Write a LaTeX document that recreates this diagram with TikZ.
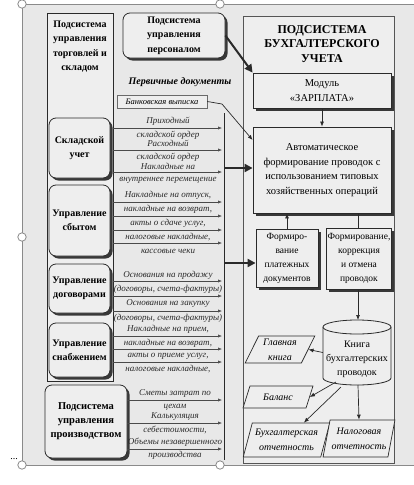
\documentclass[tikz,border=0pt]{standalone}
\usepackage{fontspec}
\setmainfont{Liberation Serif}
\usetikzlibrary{shapes.geometric,arrows.meta,shadows}
\definecolor{bg}{HTML}{E8E8E8}
\definecolor{boxfill}{HTML}{EEEEEE}
\definecolor{ink}{HTML}{2A2A2A}
\definecolor{shadowc}{HTML}{383838}
\definecolor{handle}{HTML}{8A8A8A}
\tikzset{
  frm/.style={draw=ink, line width=0.8pt, fill=boxfill},
  shd/.style={drop shadow={shadow xshift=2.5pt, shadow yshift=-2.5pt, fill=shadowc, opacity=1}},
  rbox/.style={frm, shd, rounded corners=7pt, align=center, inner sep=1pt,
    font=\bfseries\fontsize{10}{14}\selectfont},
  sbox/.style={frm, shd, align=center, inner sep=1pt,
    font=\fontsize{10.5}{14.6}\selectfont},
  smallbox/.style={frm, shd, align=center, inner sep=1pt,
    font=\fontsize{9.5}{14}\selectfont},
  doc/.style={font=\itshape\fontsize{9}{9}\selectfont, text=ink, inner sep=0pt},
  docarr/.style={draw=ink!85, line width=0.6pt, -{Latex[length=4pt,width=3.2pt]}},
  thinarr/.style={draw=ink, line width=0.7pt, -{Latex[length=5pt,width=4pt]}},
  bigarr/.style={draw=ink, line width=2pt, -{Triangle[length=8pt,width=8pt]}},
  para/.style={trapezium, trapezium stretches=true, frm, line width=0.7pt,
    align=center, inner sep=0pt, font=\itshape\fontsize{10}{15}\selectfont},
  handlec/.style={draw=handle, fill=white, line width=0.8pt}
}
\begin{document}
\begin{tikzpicture}[x=1pt,y=-1pt]
\useasboundingbox (0,0) rectangle (414,485);
% scan background and frame
\fill[bg] (22,4) rectangle (414,465);
\draw[handle, line width=0.6pt] (414,4) -- (22,4) -- (22,465) -- (414,465);

% left subsystem
\node[frm, minimum width=66pt, minimum height=368pt, inner sep=0pt] (trade) at (80,197) {};
\node[align=center, font=\bfseries\fontsize{10}{14.3}\selectfont, inner sep=0pt] (tradetitle) at (80,46.5)
  {Подсистема\\управления\\торговлей и\\складом};
\node[rbox, minimum width=61pt, minimum height=60pt] (sklad) at (79.5,148) {Складской\\учет};
\node[rbox, minimum width=61pt, minimum height=71pt] (sbyt) at (79.5,220.5) {Управление\\сбытом};
\node[rbox, minimum width=61pt, minimum height=49pt] (dogovor) at (79.5,288.5) {Управление\\договорами};
\node[rbox, minimum width=61pt, minimum height=54pt] (snab) at (79.5,350) {Управление\\снабжением};
\node[rbox, minimum width=82pt, minimum height=73pt, font=\bfseries\fontsize{10.5}{14}\selectfont] (proizv) at (86,421.5)
  {Подсистема\\управления\\производством};

% personnel
\node[rbox, minimum width=102pt, minimum height=45pt, font=\bfseries\fontsize{10}{14.5}\selectfont] (personnel) at (174,35.5)
  {Подсистема\\управления\\персоналом};

% accounting subsystem
\node[draw=ink!80, line width=0.7pt, fill=boxfill, minimum width=151pt, minimum height=447pt, inner sep=0pt] (acct) at (318.5,239.5) {};
\node[align=center, font=\bfseries\fontsize{12}{14.2}\selectfont, inner sep=0pt] (accttitle) at (322,44)
  {ПОДСИСТЕМА\\БУХГАЛТЕРСКОГО\\УЧЕТА};
\node[sbox, minimum width=138pt, minimum height=35pt] (zarplata) at (322,90.5) {Модуль\\«ЗАРПЛАТА»};
\node[sbox, minimum width=138pt, minimum height=86pt] (auto) at (322,170)
  {Автоматическое\\формирование проводок с\\использованием типовых\\хозяйственных операций};
\node[smallbox, minimum width=62pt, minimum height=58pt] (plat) at (287,258)
  {Формиро-\\вание\\платежных\\документов};
\node[smallbox, minimum width=62pt, minimum height=61pt] (korr) at (359,258.5)
  {Формирование,\\коррекция\\и отмена\\проводок};

% cylinder
\fill[boxfill] (323,327) -- (323,378) arc[start angle=180, end angle=360, x radius=34pt, y radius=7pt] -- (391,327) -- cycle;
\draw[ink, line width=0.8pt] (323,327) -- (323,378) arc[start angle=180, end angle=360, x radius=34pt, y radius=7pt] -- (391,327);
\draw[ink, line width=0.8pt, fill=boxfill] (357,327) ellipse[x radius=34pt, y radius=7pt];
\node[minimum width=68pt, minimum height=65pt, inner sep=0pt] (book) at (357,352.5) {};
\node[align=center, font=\fontsize{10}{14}\selectfont, inner sep=0pt] (booktext) at (357,359.5)
  {Книга\\бухгалтерских\\проводок};

% parallelograms
\node[para, trapezium left angle=64, trapezium right angle=116, minimum width=70pt, minimum height=27pt] (glav) at (280,349.5) {Главная\\книга};
\node[para, trapezium left angle=61, trapezium right angle=119, minimum width=70pt, minimum height=22pt] (balans) at (278,397) {Баланс};
\node[para, trapezium left angle=69, trapezium right angle=111, minimum width=87pt, minimum height=34pt] (buh) at (286.5,440) {Бухгалтерская\\отчетность};
\node[para, trapezium left angle=73, trapezium right angle=107, minimum width=72pt, minimum height=37pt] (nalog) at (359,438.5) {Налоговая\\отчетность};

% inner arrows of accounting subsystem
\draw[thinarr] (zarplata.south) -- (auto.north);
\draw[thinarr] (plat.north) -- (plat.north |- auto.south);
\coordinate (ka) at (358,213);
\draw[ink, line width=0.7pt] (ka) -- (ka |- korr.north);
\coordinate (bk) at (358,320);
\draw[thinarr] (ka |- korr.south) -- (bk);
\draw[thinarr] (book.west) -- (glav.east);
\coordinate (bb1) at (336,382);
\coordinate (bb2) at (341,387);
\draw[thinarr] (bb1) -- (balans.east);
\draw[thinarr] (bb2) -- (buh.north east);
\draw[thinarr] (358,385) -- (nalog.north);

% top-left labels
\node[font=\bfseries\itshape\fontsize{10}{12}\selectfont, inner sep=0pt] (perv) at (180,82) {Первичные документы};
\node[draw=ink!70, line width=0.5pt, fill=boxfill, minimum width=90pt, minimum height=13pt, inner sep=0pt,
  font=\itshape\fontsize{8.5}{9}\selectfont] (bank) at (162,101.5) {Банковская выписка};
\coordinate (bk1) at (222,104);
\draw[thinarr] (bank.east) -- (bk1) -- (auto.west |- 0,140);
\draw[bigarr] (personnel.east) -- (zarplata.north west);

% collector line
\coordinate (colTop) at (224,113);
\coordinate (colBot) at (224,460);
\draw[ink, line width=0.8pt] (colTop) -- (colBot);
\coordinate (big1) at (224,168);
\coordinate (big2) at (224,263);
\draw[bigarr] (big1) -- (auto.west |- big1);
\draw[bigarr] (big2) -- (plat.west |- big2);

% documents: warehouse
\foreach \yy in {128,150,172} {\coordinate (e\yy) at (222,\yy); \draw[docarr] (trade.east |- e\yy) -- (e\yy);}
\node[doc] (t1) at (168,121) {Приходный};
\node[doc] (t2) at (168,135) {складской ордер};
\node[doc] (t3) at (168,143) {Расходный};
\node[doc] (t4) at (168,157) {складской ордер};
\node[doc] (t5) at (168,166) {Накладные на};
\node[doc] (t6) at (168,180) {внутреннее перемещение};
% sales
\foreach \yy in {202,216,230,243} {\coordinate (e\yy) at (222,\yy); \draw[docarr] (trade.east |- e\yy) -- (e\yy);}
\node[doc] (s1) at (168,195) {Накладные на отпуск,};
\node[doc] (s2) at (168,209) {накладные на возврат,};
\node[doc] (s3) at (168,223) {акты о сдаче услуг,};
\node[doc] (s4) at (168,237) {налоговые накладные,};
\node[doc] (s5) at (168,251) {кассовые чеки};
% contracts
\foreach \yy in {281,296,311} {\coordinate (e\yy) at (222,\yy); \draw[docarr] (trade.east |- e\yy) -- (e\yy);}
\node[doc] (c1) at (168,275) {Основания на продажу};
\node[doc] (c2) at (168,289) {(договоры, счета-фактуры)};
\node[doc] (c3) at (168,303) {Основания на закупку};
\node[doc] (c4) at (168,318) {(договоры, счета-фактуры)};
% supply
\foreach \yy in {336,349,362} {\coordinate (e\yy) at (222,\yy); \draw[docarr] (trade.east |- e\yy) -- (e\yy);}
\node[doc] (p1) at (168,329) {Накладные на прием,};
\node[doc] (p2) at (168,343) {накладные на возврат,};
\node[doc] (p3) at (168,356) {акты о приеме услуг,};
\node[doc] (p4) at (168,369) {налоговые накладные,};
% production
\foreach \yy in {400,423,449} {\coordinate (e\yy) at (222,\yy); \draw[docarr] (proizv.east |- e\yy) -- (e\yy);}
\node[doc] (m1) at (175,393) {Сметы затрат по};
\node[doc] (m2) at (175,407) {цехам};
\node[doc] (m3) at (175,417) {Калькуляция};
\node[doc] (m4) at (175,430) {себестоимости,};
\node[doc] (m5) at (175,442) {Объемы незавершенного};
\node[doc] (m6) at (175,455) {производства};

% selection handles
\foreach \hx/\hy [count=\i] in {22/4,220/4,22/237,22/465,220/465} {\draw[handlec] (\hx,\hy) circle[radius=4.2pt];}
\node[font=\fontsize{10}{10}\selectfont, inner sep=0pt] (dots) at (14,459) {...};
\end{tikzpicture}
\end{document}
